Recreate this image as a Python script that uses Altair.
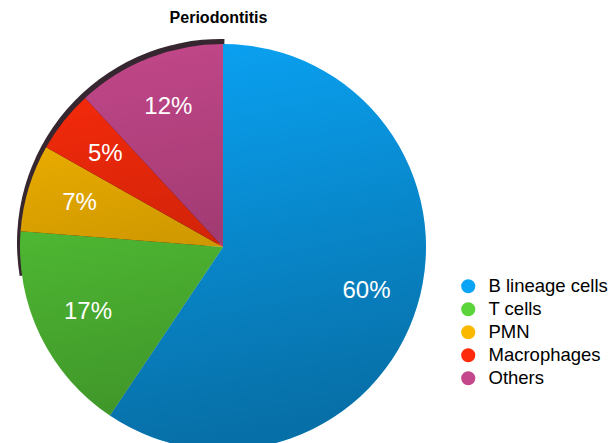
import altair as alt
import pandas as pd

categories = ["B lineage cells", "T cells", "PMN", "Macrophages", "Others"]
values = [60, 17, 7, 5, 12]
labels = ["60%", "17%", "7%", "5%", "12%"]
colors = ["#0aa4f6", "#5ad43a", "#fab800", "#fd2b0b", "#c3478a"]

df = pd.DataFrame({"category": categories, "value": values, "label": labels})
one = pd.DataFrame({"k": [0]})

CX, CY, R = 223, 217, 203

base = alt.Chart(df).transform_window(idx="row_number()")

rim = alt.Chart(one).mark_arc(radius=R + 1, color="#2b1a24", opacity=0.95).encode(
    theta=alt.value(4.55), theta2=alt.value(6.30),
    x=alt.value(CX - 2), y=alt.value(CY - 4),
)

pie = base.mark_arc(radius=R, stroke=None).encode(
    theta=alt.Theta("value:Q", stack=True),
    order=alt.Order("idx:Q"),
    color=alt.Color(
        "category:N",
        sort=categories,
        scale=alt.Scale(domain=categories, range=colors),
        legend=alt.Legend(
            title=None, orient="none", legendX=459, legendY=247,
            symbolType="circle", symbolSize=200, symbolStrokeWidth=0,
            symbolOpacity=1, labelFont="Liberation Sans", labelFontSize=18.5,
            labelColor="#000000", labelOffset=11, rowPadding=4, padding=0,
        ),
    ),
    x=alt.value(CX), y=alt.value(CY),
)

shade = alt.Chart(one).mark_arc(
    radius=R,
    fill=alt.Gradient(
        gradient="linear", x1=0.1, y1=0, x2=0.3, y2=1,
        stops=[
            alt.GradientStop(offset=0, color="rgba(0,0,0,0.0)"),
            alt.GradientStop(offset=1, color="rgba(0,0,0,0.32)"),
        ],
    ),
).encode(theta=alt.value(0), theta2=alt.value(6.2832), x=alt.value(CX), y=alt.value(CY))

text = base.mark_text(
    radius=150, color="white", font="Liberation Sans", fontSize=24
).encode(
    theta=alt.Theta("value:Q", stack=True),
    order=alt.Order("idx:Q"),
    text="label:N",
    x=alt.value(CX), y=alt.value(CY),
)

chart = alt.layer(rim, pie, shade, text).properties(
    width=609, height=413,
    title=alt.TitleParams(
        "Periodontitis", font="Liberation Sans", fontSize=16, fontWeight="bold",
        color="#000000", anchor="middle", dx=-86, offset=4,
    ),
    padding={"left": 0, "top": 30, "right": 0, "bottom": 0},
    autosize=alt.AutoSizeParams(type="none"),
).configure_view(stroke=None)

chart.save("out.html", embed_options={"renderer": "svg", "actions": False})
